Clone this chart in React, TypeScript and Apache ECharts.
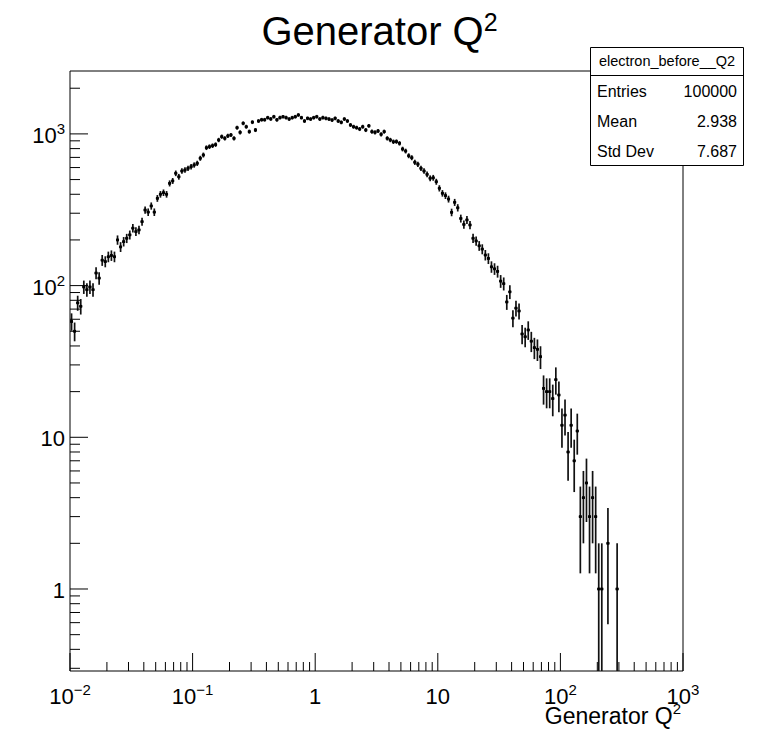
import React, { useEffect, useRef } from "react";
import * as echarts from "echarts";

// ---- Data ----
// 200 log-spaced bins from 1e-2 to 1e3 (40 bins per decade)
const binCounts = [
  58, 50, 77, 73, 98, 94, 98, 94, 121, 112,
  147, 144, 155, 158, 155, 200, 180, 195, 205, 216,
  239, 227, 233, 264, 315, 305, 335, 305, 376, 400,
  410, 400, 472, 490, 550, 522, 569, 578, 593, 608,
  624, 640, 691, 726, 811, 824, 836, 850, 912, 959,
  935, 970, 984, 935, 1099, 1024, 1175, 1115, 1035, 1195,
  1061, 1216, 1240, 1240, 1279, 1255, 1298, 1240, 1279, 1298,
  1279, 1253, 1279, 1298, 1333, 1279, 1216, 1267, 1253, 1279,
  1298, 1253, 1279, 1267, 1253, 1235, 1267, 1216, 1192, 1253,
  1216, 1145, 1115, 1099, 1077, 1115, 1061, 1130, 1035, 1024,
  1045, 994, 1035, 935, 912, 888, 890, 867, 795, 771,
  718, 697, 650, 631, 593, 569, 541, 510, 514, 484,
  438, 406, 392, 372, 304, 354, 326, 277, 253, 271,
  251, 205, 197, 183, 174, 159, 151, 133, 129, 124,
  107, 103, 78, 91, 61, 71, 68, 48, 46, 51,
  43, 39, 38, 34, 21, 20, 20, 18, 24, 19,
  12, 14, 8, 12, 7, 11, 3, 4, 5, 3,
  4, 3, 1, 1, 0, 2, 0, 0, 1, 0,
  0, 0, 0, 0, 0, 0, 0, 0, 0, 0,
  0, 0, 0, 0, 0, 0, 0, 0, 0, 0,
];
const histRange = [0.01, 1000];
const yRange = [0.288, 2598];

const xMajorTicks = [0.01, 0.1, 1, 10, 100, 1000];
const xMinorTicks = [
  0.02, 0.03, 0.04, 0.05, 0.06, 0.07, 0.08, 0.09,
  0.2, 0.3, 0.4, 0.5, 0.6, 0.7, 0.8, 0.9,
  2, 3, 4, 5, 6, 7, 8, 9,
  20, 30, 40, 50, 60, 70, 80, 90,
  200, 300, 400, 500, 600, 700, 800, 900,
];
const yMajorTicks = [1, 10, 100, 1000];
const yMinorTicks = [
  0.3, 0.4, 0.5, 0.6, 0.7, 0.8, 0.9,
  2, 3, 4, 5, 6, 7, 8, 9,
  20, 30, 40, 50, 60, 70, 80, 90,
  200, 300, 400, 500, 600, 700, 800, 900,
  2000,
];
const xLabelBase = ["10", "10", "1", "10", "10", "10"];
const xLabelSup = ["\u22122", "\u22121", "", "", "2", "3"];
const yLabelBase = ["1", "10", "10", "10"];
const yLabelSup = ["", "", "2", "3"];

const titleBase = "Generator Q";
const titleSup = "2";
const axisTitleBase = "Generator Q";
const axisTitleSup = "2";
const statsName = "electron_before__Q2";
const statsLabels = ["Entries", "Mean", "Std Dev"];
const statsValues = ["100000", "2.938", "7.687"];

const FONT = '"Liberation Sans", Arial, Helvetica, sans-serif';

let measureCtx: CanvasRenderingContext2D | null = null;
function measure(text: string, size: number): number {
  if (!measureCtx) measureCtx = document.createElement("canvas").getContext("2d");
  if (!measureCtx) return text.length * size * 0.55;
  measureCtx.font = `${size}px "Liberation Sans"`;
  return measureCtx.measureText(text).width;
}

function txt(x: number, y: number, text: string, size: number, align: string, extra: any = {}) {
  return {
    type: "text",
    x,
    y,
    silent: true,
    style: {
      text,
      fontSize: size,
      fontFamily: FONT,
      fill: "#000",
      align,
      textAlign: align,
      verticalAlign: "middle",
      textVerticalAlign: "middle",
      ...extra,
    },
  };
}

export default function App() {
  const ref = useRef<HTMLDivElement>(null);

  useEffect(() => {
    if (!ref.current) return;
    const chart = echarts.init(ref.current, null, { renderer: "svg", width: 759, height: 730 });

    const nBins = binCounts.length;
    const lmin = Math.log10(histRange[0]);
    const lmax = Math.log10(histRange[1]);
    const bw = (lmax - lmin) / nBins;
    const histData: number[][] = [];
    binCounts.forEach((n, i) => {
      if (n > 0) histData.push([Math.pow(10, lmin + i * bw), Math.pow(10, lmin + (i + 1) * bw), n]);
    });

    const lineStyle = { stroke: "#111", lineWidth: 1.7 };

    const xTickData = [
      ...xMajorTicks.map((v) => [v, yRange[0], 1]),
      ...xMinorTicks.map((v) => [v, yRange[0], 0]),
    ];
    const yTickData = [
      ...yMajorTicks.map((v) => [histRange[0], v, 1]),
      ...yMinorTicks.map((v) => [histRange[0], v, 0]),
    ];

    const LBASE = 22;
    const LSUP = 15;

    // title pieces
    const TS = 40;
    const TSS = 25;
    const tw = measure(titleBase, TS);
    const tsw = measure(titleSup, TSS);
    const tStart = 379.5 - (tw + tsw) / 2;

    const AS = 23;
    const ASS = 15;
    const asw = measure(axisTitleSup, ASS);
    const aRight = 681;

    const sx0 = 590.5, sy0 = 47.5, sw = 153, sh = 118;

    const option: any = {
      animation: false,
      backgroundColor: "#fff",
      grid: {
        left: 70,
        top: 71,
        width: 613,
        height: 600,
        show: true,
        borderColor: "#000",
        borderWidth: 1,
        backgroundColor: "#fff",
        containLabel: false,
      },
      xAxis: {
        type: "log",
        logBase: 10,
        min: histRange[0],
        max: histRange[1],
        axisLine: { show: false },
        axisTick: { show: false },
        axisLabel: { show: false },
        splitLine: { show: false },
      },
      yAxis: {
        type: "log",
        logBase: 10,
        min: yRange[0],
        max: yRange[1],
        axisLine: { show: false },
        axisTick: { show: false },
        axisLabel: { show: false },
        splitLine: { show: false },
      },
      series: [
        {
          type: "custom",
          name: "electron_before__Q2",
          coordinateSystem: "cartesian2d",
          clip: true,
          silent: true,
          data: histData,
          encode: { x: [0, 1], y: 2 },
          renderItem: (params: any, api: any) => {
            const lo = api.value(0);
            const hi = api.value(1);
            const n = api.value(2);
            const xc = (lo + hi) / 2;
            const err = Math.sqrt(n);
            const yl = Math.max(n - err, yRange[0]);
            const pT = api.coord([xc, n + err]);
            const pB = api.coord([xc, yl]);
            const pL = api.coord([lo, n]);
            const pR = api.coord([hi, n]);
            const pC = api.coord([xc, n]);
            return {
              type: "group",
              children: [
                { type: "line", shape: { x1: pT[0], y1: pT[1], x2: pB[0], y2: pB[1] }, style: lineStyle },
                { type: "line", shape: { x1: pL[0], y1: pL[1], x2: pR[0], y2: pR[1] }, style: lineStyle },
                { type: "rect", shape: { x: pC[0] - 1.4, y: pC[1] - 1.4, width: 2.8, height: 2.8 }, style: { fill: "#000" } },
              ],
            };
          },
        },
        {
          type: "custom",
          name: "xTicks",
          coordinateSystem: "cartesian2d",
          clip: false,
          silent: true,
          data: xTickData,
          encode: { x: 0, y: 1 },
          renderItem: (params: any, api: any) => {
            const p = api.coord([api.value(0), api.value(1)]);
            const len = api.value(2) ? 18 : 9;
            return { type: "line", shape: { x1: p[0], y1: p[1], x2: p[0], y2: p[1] - len }, style: { stroke: "#000", lineWidth: 1 } };
          },
        },
        {
          type: "custom",
          name: "yTicks",
          coordinateSystem: "cartesian2d",
          clip: false,
          silent: true,
          data: yTickData,
          encode: { x: 0, y: 1 },
          renderItem: (params: any, api: any) => {
            const p = api.coord([api.value(0), api.value(1)]);
            const len = api.value(2) ? 18 : 10;
            return { type: "line", shape: { x1: p[0], y1: p[1], x2: p[0] + len, y2: p[1] }, style: { stroke: "#000", lineWidth: 1 } };
          },
        },
        {
          type: "custom",
          name: "xLabels",
          coordinateSystem: "cartesian2d",
          clip: false,
          silent: true,
          data: xMajorTicks.map((v, i) => [v, yRange[0], i]),
          encode: { x: 0, y: 1 },
          renderItem: (params: any, api: any) => {
            const p = api.coord([api.value(0), api.value(1)]);
            const i = api.value(2);
            const b = xLabelBase[i];
            const s = xLabelSup[i];
            const bw2 = measure(b, LBASE);
            const sw2 = s ? measure(s, LSUP) : 0;
            const start = p[0] - (bw2 + sw2) / 2;
            const children: any[] = [txt(start, p[1] + 25, b, LBASE, "left")];
            if (s) children.push(txt(start + bw2, p[1] + 18.5, s, LSUP, "left"));
            return { type: "group", children };
          },
        },
        {
          type: "custom",
          name: "yLabels",
          coordinateSystem: "cartesian2d",
          clip: false,
          silent: true,
          data: yMajorTicks.map((v, i) => [histRange[0], v, i]),
          encode: { x: 0, y: 1 },
          renderItem: (params: any, api: any) => {
            const p = api.coord([api.value(0), api.value(1)]);
            const i = api.value(2);
            const b = yLabelBase[i];
            const s = yLabelSup[i];
            const sw2 = s ? measure(s, LSUP) : 0;
            const right = p[0] - 5;
            const children: any[] = [txt(right - sw2, p[1] + 1.5, b, LBASE, "right")];
            if (s) children.push(txt(right, p[1] - 5, s, LSUP, "right"));
            return { type: "group", children };
          },
        },
      ],
      graphic: [
        txt(tStart, 31, titleBase, TS, "left"),
        txt(tStart + tw, 22, titleSup, TSS, "left"),
        txt(aRight - asw, 716, axisTitleBase, AS, "right"),
        txt(aRight, 708, axisTitleSup, ASS, "right"),
        {
          type: "rect",
          silent: true,
          shape: { x: sx0, y: sy0, width: sw, height: sh },
          style: { fill: "#fff", stroke: "#000", lineWidth: 1 },
          z: 10,
        },
        {
          type: "line",
          silent: true,
          shape: { x1: sx0, y1: 75.5, x2: sx0 + sw, y2: 75.5 },
          style: { stroke: "#000", lineWidth: 1 },
          z: 11,
        },
        { ...txt(sx0 + sw / 2, 61, statsName, 14.5, "center"), z: 11 },
        ...statsLabels.map((l, i) => ({ ...txt(597, 91 + i * 30, l, 16, "left"), z: 11 })),
        ...statsValues.map((v, i) => ({ ...txt(737, 91 + i * 30, v, 16, "right"), z: 11 })),
      ],
    };

    chart.setOption(option);
    return () => chart.dispose();
  }, []);

  return (
    <div
      ref={ref}
      style={{ position: "fixed", left: 0, top: 0, width: 759, height: 730, background: "#fff" }}
    />
  );
}
